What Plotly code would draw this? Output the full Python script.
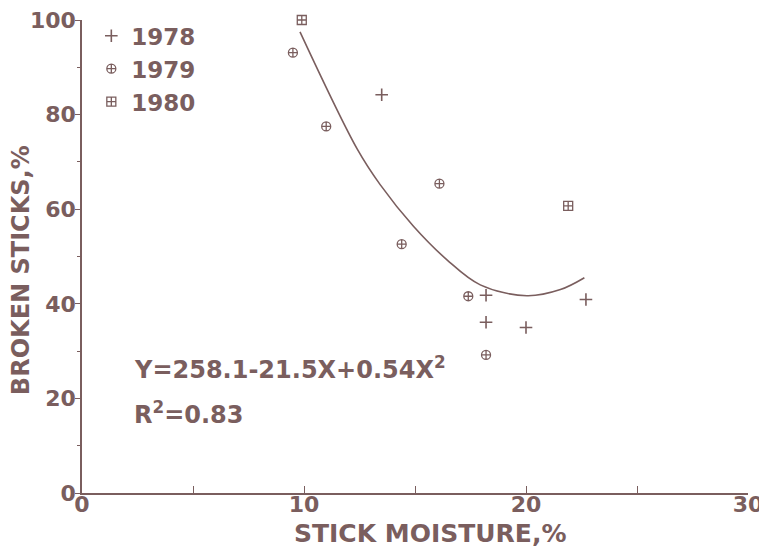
import plotly.graph_objects as go

# Data
x_1978 = [13.5, 18.2, 18.2, 20.0, 22.7]
y_1978 = [84.2, 41.8, 36.1, 35.0, 40.9]

x_1979 = [9.5, 11.0, 14.4, 16.1, 17.4, 18.2]
y_1979 = [93.1, 77.5, 52.6, 65.4, 41.6, 29.2]

x_1980 = [9.9, 21.9]
y_1980 = [100.0, 60.7]

# Fitted curve, points
x_fit = [9.82, 12.4, 13.43, 14.93, 16.44, 17.94, 20.04, 21.55, 22.63]
y_fit = [97.5, 72.7, 65.2, 56.4, 49.3, 44.0, 41.7, 43.0, 45.5]

x_ticks = [0, 10, 20, 30]
y_ticks = [0, 20, 40, 60, 80, 100]

x_title = "STICK MOISTURE,%"
y_title = "BROKEN STICKS,%"
equation_text = "Y=258.1-21.5X+0.54X<sup>2</sup>"
r2_text = "R<sup>2</sup>=0.83"

INK = "#7a5e5e"
FONT = "DejaVu Sans"

fig = go.Figure()

fig.add_trace(go.Scatter(
    x=x_fit, y=y_fit, mode="lines", line=dict(color=INK, width=1.6, shape="spline"),
    showlegend=False, hoverinfo="skip", cliponaxis=False))

fig.add_trace(go.Scatter(
    x=x_1978, y=y_1978, mode="markers", name="1978", cliponaxis=False,
    marker=dict(symbol="cross-thin-open", size=9, line=dict(color=INK, width=1.6), color=INK)))
fig.add_trace(go.Scatter(
    x=x_1979, y=y_1979, mode="markers", name="1979", cliponaxis=False,
    marker=dict(symbol="circle-cross-open", size=9, line=dict(color=INK, width=1.3), color=INK)))
fig.add_trace(go.Scatter(
    x=x_1980, y=y_1980, mode="markers", name="1980", cliponaxis=False,
    marker=dict(symbol="square-cross-open", size=9, line=dict(color=INK, width=1.3), color=INK)))

fig.add_annotation(x=2.26, y=26.5, xref="x", yref="y", text=equation_text, showarrow=False,
                   xanchor="left", yanchor="middle", font=dict(family=FONT, size=24, color=INK, weight="bold"))
fig.add_annotation(x=2.26, y=17.0, xref="x", yref="y", text=r2_text, showarrow=False,
                   xanchor="left", yanchor="middle", font=dict(family=FONT, size=24, color=INK, weight="bold"))

# axis titles
fig.add_annotation(x=0.523, y=-0.086, xref="paper", yref="paper", text=x_title, showarrow=False,
                   xanchor="center", yanchor="middle", font=dict(family=FONT, size=25, color=INK, weight="bold"))
fig.add_annotation(x=-0.0925, y=0.472, xref="paper", yref="paper", text=y_title, showarrow=False,
                   textangle=-90, xanchor="center", yanchor="middle",
                   font=dict(family=FONT, size=24, color=INK, weight="bold"))

# The page body has an 8px margin, so the figure is sized/offset to compensate
fig.update_layout(
    width=759, height=542,
    margin=dict(l=74, r=19, t=12, b=57, autoexpand=False),
    paper_bgcolor="white", plot_bgcolor="white",
    font=dict(family=FONT, color=INK, size=20, weight="bold"),
    showlegend=True,
    legend=dict(x=0.014, y=1.012, xanchor="left", yanchor="top", bgcolor="rgba(0,0,0,0)",
                font=dict(family=FONT, size=23, color=INK, weight="bold"),
                itemsizing="trace", tracegroupgap=0),
    xaxis=dict(range=[0, 30], tickvals=x_ticks, ticktext=[str(v) for v in x_ticks],
               automargin=False, ticklabeloverflow="allow",
               showline=True, linecolor=INK, linewidth=1.5, ticks="inside", ticklen=7,
               tickcolor=INK, tickwidth=1.2, showgrid=False, zeroline=False,
               ticklabelstandoff=-9,
               minor=dict(dtick=5, ticks="inside", ticklen=7, tickcolor=INK, tickwidth=1.2, showgrid=False),
               tickfont=dict(family=FONT, size=22, color=INK, weight="bold")),
    yaxis=dict(range=[0, 100], tickvals=y_ticks, ticktext=[str(v) for v in y_ticks],
               automargin=False, ticklabeloverflow="allow",
               showline=True, linecolor=INK, linewidth=1.5, ticks="outside", ticklen=5,
               tickcolor=INK, tickwidth=1.2, showgrid=False, zeroline=False,
               ticklabelstandoff=-5,
               minor=dict(dtick=10, ticks="outside", ticklen=3, tickcolor=INK, tickwidth=1, showgrid=False),
               tickfont=dict(family=FONT, size=22, color=INK, weight="bold")),
)

fig.write_html("out.html")
